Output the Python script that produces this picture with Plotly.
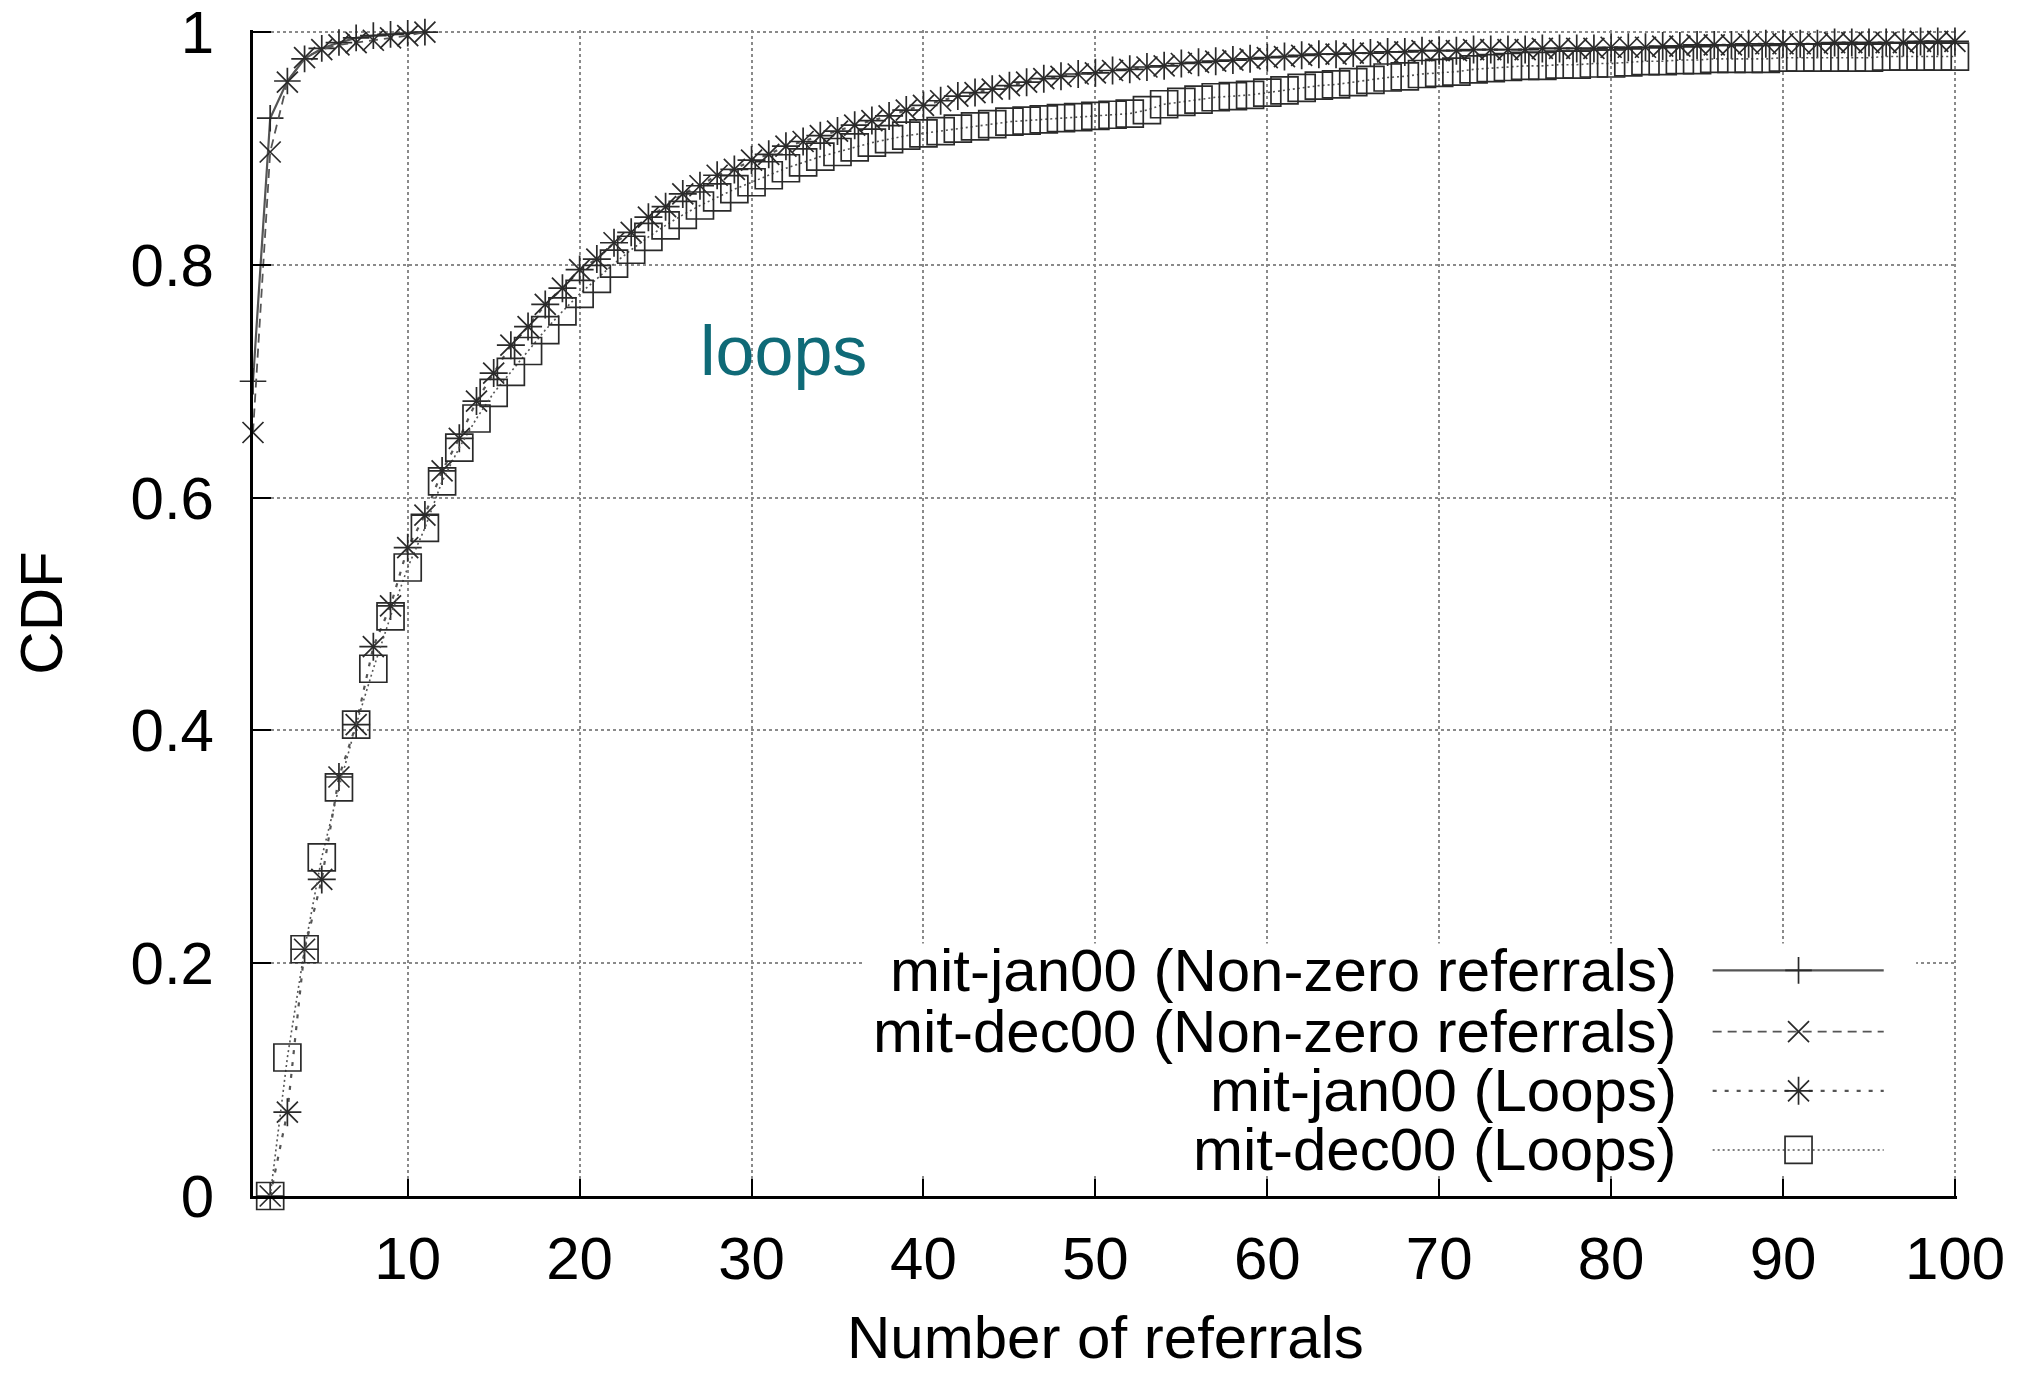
import plotly.graph_objects as go

# ---------------- data ----------------
x_nonzero = list(range(1, 12))
jan_nonzero = [0.700, 0.926, 0.958, 0.977, 0.986, 0.991, 0.995, 0.997, 0.998, 0.999, 1.000]
dec_nonzero = [0.656, 0.897, 0.957, 0.978, 0.985, 0.989, 0.991, 0.993, 0.995, 0.997, 1.000]

x_loops = list(range(2, 101))
jan_loops = [
    0.000, 0.072, 0.212, 0.272, 0.360, 0.405, 0.472, 0.507, 0.557, 0.585,
    0.623, 0.651, 0.683, 0.707, 0.731, 0.747, 0.766, 0.780, 0.796, 0.805,
    0.819, 0.828, 0.841, 0.850, 0.861, 0.868, 0.877, 0.882, 0.890, 0.895,
    0.902, 0.906, 0.911, 0.915, 0.920, 0.924, 0.928, 0.933, 0.937, 0.941,
    0.945, 0.948, 0.951, 0.954, 0.957, 0.960, 0.962, 0.964, 0.965, 0.967,
    0.968, 0.970, 0.971, 0.973, 0.974, 0.975, 0.976, 0.977, 0.978, 0.979,
    0.980, 0.981, 0.981, 0.982, 0.982, 0.983, 0.983, 0.984, 0.984, 0.984,
    0.985, 0.985, 0.985, 0.985, 0.986, 0.986, 0.986, 0.986, 0.987, 0.987,
    0.987, 0.988, 0.988, 0.989, 0.989, 0.989, 0.990, 0.990, 0.990, 0.990,
    0.990, 0.991, 0.991, 0.991, 0.991, 0.991, 0.992, 0.992, 0.992,
]
dec_loops = [
    0.000, 0.119, 0.212, 0.291, 0.351, 0.405, 0.453, 0.498, 0.540, 0.574,
    0.614, 0.643, 0.668, 0.690, 0.708, 0.726, 0.744, 0.760, 0.775, 0.788,
    0.801, 0.813, 0.824, 0.834, 0.843, 0.851, 0.858, 0.865, 0.871, 0.877,
    0.883, 0.888, 0.893, 0.897, 0.901, 0.905, 0.908, 0.911, 0.913, 0.915,
    0.917, 0.919, 0.921, 0.923, 0.924, 0.925, 0.926, 0.927, 0.928, 0.929,
    0.930, 0.933, 0.938, 0.940, 0.942, 0.944, 0.945, 0.946, 0.948, 0.950,
    0.952, 0.954, 0.955, 0.957, 0.959, 0.961, 0.962, 0.964, 0.965, 0.966,
    0.968, 0.969, 0.970, 0.971, 0.971, 0.972, 0.972, 0.973, 0.973, 0.974,
    0.975, 0.975, 0.976, 0.976, 0.977, 0.977, 0.977, 0.977, 0.978, 0.978,
    0.978, 0.978, 0.978, 0.978, 0.979, 0.979, 0.979, 0.979, 0.979,
]

series_names = [
    "mit-jan00 (Non-zero referrals)",
    "mit-dec00 (Non-zero referrals)",
    "mit-jan00 (Loops)",
    "mit-dec00 (Loops)",
]
x_tickvals = [10, 20, 30, 40, 50, 60, 70, 80, 90, 100]
y_tickvals = [0, 0.2, 0.4, 0.6, 0.8, 1]
y_ticktext = ["0", "0.2", "0.4", "0.6", "0.8", "1"]
x_title = "Number of referrals"
y_title = "CDF"

# ---------------- styles ----------------
FONT = "Liberation Sans, Arial, sans-serif"
MK = "#2a2a2a"
LN = "#555555"
styles = [
    dict(dash="solid", width=2.2, markers=[("cross-thin-open", 19)]),
    dict(dash="9px,6px", width=1.8, markers=[("x-thin-open", 21)]),
    dict(dash="4px,8px", width=2.2, markers=[("x-thin-open", 21), ("cross-thin-open", 20)]),
    dict(dash="2px,3px", width=1.6, markers=[("square-open", 27)]),
]
data_x = [x_nonzero, x_nonzero, x_loops, x_loops]
data_y = [jan_nonzero, dec_nonzero, jan_loops, dec_loops]

fig = go.Figure()

for i in range(4):
    st = styles[i]
    fig.add_trace(go.Scatter(
        x=data_x[i], y=data_y[i], mode="lines", name=series_names[i],
        line=dict(color=LN, width=st["width"], dash=st["dash"]),
        cliponaxis=False, showlegend=False, hoverinfo="skip"))
    for sym, sz in st["markers"]:
        fig.add_trace(go.Scatter(
            x=data_x[i], y=data_y[i], mode="markers", name=series_names[i],
            marker=dict(symbol=sym, size=sz, color=MK, line=dict(color=MK, width=1.7)),
            cliponaxis=False, showlegend=False))

# ---------------- custom key (opaque box, text left, sample right) ----------------
box_x = [0.358, 0.976, 0.976, 0.358, 0.358]
box_y = [0.019, 0.019, 0.2165, 0.2165, 0.019]
fig.add_trace(go.Scatter(
    x=box_x, y=box_y, mode="lines", fill="toself", fillcolor="white",
    line=dict(width=0, color="white"), xaxis="x2", yaxis="y2",
    showlegend=False, hoverinfo="skip"))

row_y = [0.1935, 0.1409, 0.0902, 0.0395]
line_x0, line_x1, sym_x, text_x = 0.8566, 0.957, 0.907, 0.8367
for i in range(4):
    st = styles[i]
    fig.add_trace(go.Scatter(
        x=[line_x0, line_x1], y=[row_y[i], row_y[i]], mode="lines",
        line=dict(color=LN, width=st["width"], dash=st["dash"]),
        xaxis="x2", yaxis="y2", showlegend=False, hoverinfo="skip"))
    for sym, sz in st["markers"]:
        fig.add_trace(go.Scatter(
            x=[sym_x], y=[row_y[i]], mode="markers",
            marker=dict(symbol=sym, size=sz, color=MK, line=dict(color=MK, width=1.7)),
            xaxis="x2", yaxis="y2", showlegend=False, hoverinfo="skip", cliponaxis=False))
    fig.add_annotation(text=series_names[i], xref="x domain", yref="y domain",
                       x=text_x, y=row_y[i], xanchor="right", yanchor="middle",
                       showarrow=False, font=dict(family=FONT, size=60, color="black"))

fig.add_annotation(text="loops", xref="x domain", yref="y domain",
                   x=0.3114, y=0.725, xanchor="center", yanchor="middle",
                   showarrow=False, font=dict(family=FONT, size=70, color="#0f6a77"))

# x-axis title placed as an annotation so it can sit low in the bottom margin
fig.add_annotation(text=x_title, xref="x domain", yref="y domain",
                   x=0.5, y=-0.1215, xanchor="center", yanchor="middle",
                   showarrow=False, font=dict(family=FONT, size=60, color="black"))

axis_common = dict(
    showline=True, linecolor="black", linewidth=3, mirror=False,
    ticks="inside", tickcolor="black", tickwidth=2, automargin=False,
    ticklabeloverflow="allow",
    showgrid=True, gridcolor="#8a8a8a", gridwidth=1.5, griddash="dot",
    zeroline=False, tickfont=dict(family=FONT, size=60, color="black"),
)

fig.update_layout(
    width=2018, height=1357,
    margin=dict(l=245, r=69, t=22, b=169, pad=0),
    paper_bgcolor="white", plot_bgcolor="white",
    font=dict(family=FONT, color="black"),
    xaxis=dict(range=[1, 100.12], tickvals=x_tickvals, ticklen=17,
               ticklabelstandoff=8, **axis_common),
    yaxis=dict(range=[0, 1.0018], tickvals=y_tickvals, ticktext=y_ticktext, ticklen=18,
               ticklabelstandoff=24,
               title=dict(text=y_title, font=dict(family=FONT, size=60), standoff=56),
               **axis_common),
    xaxis2=dict(overlaying="x", range=[0, 1], visible=False, fixedrange=True),
    yaxis2=dict(overlaying="y", range=[0, 1], visible=False, fixedrange=True),
    showlegend=False,
)

fig.write_html("out.html")
